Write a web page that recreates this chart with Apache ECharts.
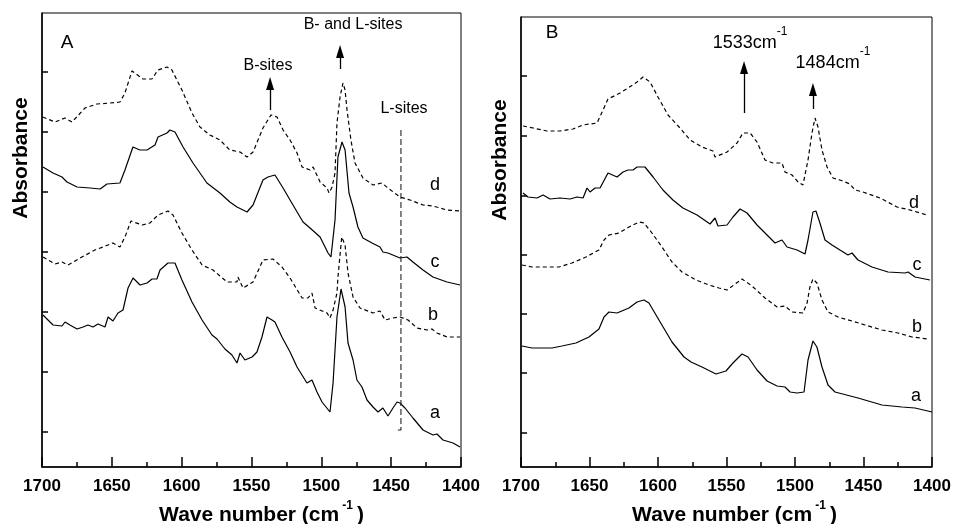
<!DOCTYPE html>
<html><head><meta charset="utf-8">
<script src="https://cdn.jsdelivr.net/npm/echarts@6/dist/echarts.min.js"></script>
<style>html,body{margin:0;padding:0;background:#fff}#c{width:953px;height:524px}</style>
</head><body><div id="c"></div>
<script>
// ---------- data: [wave number (cm-1), absorbance (a.u., offset)] ----------
const panelA_d = [[1699.5,0.315],[1690.7,0.310],[1683.5,0.314],[1678.5,0.310],[1669.2,0.324],[1660.6,0.328],[1651.3,0.329],[1644.2,0.330],[1640.6,0.339],[1635.6,0.361],[1627.7,0.353],[1621.3,0.353],[1617.0,0.362],[1610.5,0.365],[1607.0,0.362],[1599.8,0.342],[1592.6,0.319],[1586.9,0.305],[1579.8,0.297],[1572.6,0.292],[1565.5,0.282],[1558.2,0.280],[1553.2,0.275],[1548.9,0.280],[1541.8,0.304],[1536.1,0.317],[1531.7,0.315],[1527.4,0.302],[1522.4,0.292],[1517.4,0.279],[1513.8,0.265],[1508.1,0.262],[1505.9,0.265],[1500.9,0.250],[1495.9,0.244],[1494.5,0.239],[1492.3,0.245],[1490.2,0.259],[1488.8,0.309],[1486.6,0.335],[1484.5,0.349],[1483.0,0.342],[1481.6,0.322],[1478.8,0.292],[1475.9,0.269],[1470.2,0.254],[1463.0,0.247],[1456.6,0.249],[1452.3,0.244],[1443.7,0.235],[1436.5,0.232],[1427.2,0.227],[1420.1,0.226],[1410.0,0.222],[1400.5,0.221]];
const panelA_c = [[1699.3,0.265],[1692.1,0.259],[1685.7,0.255],[1682.1,0.250],[1674.9,0.245],[1665.6,0.244],[1658.4,0.243],[1653.5,0.248],[1644.2,0.249],[1640.6,0.262],[1634.9,0.285],[1629.9,0.282],[1624.8,0.282],[1619.1,0.287],[1616.9,0.295],[1610.5,0.299],[1608.4,0.302],[1604.8,0.300],[1599.0,0.285],[1591.9,0.269],[1581.9,0.249],[1572.6,0.239],[1565.5,0.230],[1560.4,0.225],[1553.2,0.220],[1548.9,0.227],[1541.8,0.252],[1538.2,0.255],[1533.2,0.257],[1527.4,0.244],[1520.3,0.227],[1513.1,0.210],[1508.1,0.204],[1500.9,0.195],[1495.2,0.179],[1493.1,0.175],[1490.2,0.212],[1488.1,0.275],[1485.2,0.290],[1483.0,0.282],[1480.2,0.239],[1477.3,0.225],[1473.8,0.205],[1470.2,0.194],[1463.7,0.189],[1458.0,0.185],[1455.9,0.180],[1452.3,0.179],[1443.7,0.174],[1438.7,0.175],[1434.4,0.170],[1427.2,0.162],[1420.1,0.155],[1410.0,0.150],[1400.7,0.147]];
const panelA_b = [[1699.3,0.175],[1690.7,0.168],[1685.7,0.170],[1681.4,0.167],[1671.4,0.175],[1662.1,0.182],[1656.3,0.185],[1649.2,0.189],[1644.2,0.185],[1640.6,0.195],[1636.3,0.211],[1628.4,0.207],[1622.7,0.209],[1616.9,0.217],[1609.8,0.221],[1606.2,0.217],[1599.8,0.199],[1592.6,0.182],[1585.4,0.167],[1577.6,0.162],[1567.5,0.150],[1560.4,0.150],[1559.7,0.155],[1556.1,0.144],[1548.9,0.150],[1541.8,0.172],[1534.6,0.173],[1528.2,0.165],[1522.4,0.154],[1513.8,0.134],[1509.5,0.134],[1506.7,0.139],[1504.5,0.124],[1495.9,0.119],[1493.8,0.114],[1491.6,0.122],[1488.8,0.139],[1488.1,0.155],[1485.4,0.195],[1483.0,0.187],[1480.9,0.159],[1477.3,0.135],[1472.3,0.124],[1463.0,0.119],[1458.0,0.121],[1454.4,0.112],[1448.7,0.114],[1443.7,0.115],[1437.9,0.112],[1431.5,0.104],[1424.3,0.102],[1420.8,0.103],[1417.2,0.099],[1410.0,0.095],[1400.5,0.095]];
const panelA_a = [[1699.3,0.117],[1692.1,0.107],[1685.7,0.106],[1683.5,0.110],[1680.0,0.107],[1674.9,0.103],[1670.6,0.105],[1667.1,0.107],[1663.5,0.105],[1659.9,0.108],[1654.9,0.105],[1652.7,0.115],[1649.2,0.111],[1645.6,0.119],[1642.0,0.122],[1638.4,0.144],[1634.8,0.154],[1629.8,0.147],[1624.8,0.149],[1621.2,0.153],[1617.7,0.153],[1615.5,0.162],[1609.8,0.169],[1604.8,0.169],[1599.8,0.152],[1592.6,0.130],[1585.4,0.112],[1578.3,0.097],[1574.7,0.093],[1569.0,0.083],[1564.0,0.077],[1560.4,0.069],[1558.2,0.079],[1554.7,0.072],[1549.6,0.075],[1546.1,0.080],[1542.5,0.095],[1538.9,0.115],[1535.3,0.112],[1533.2,0.110],[1528.2,0.095],[1522.4,0.080],[1517.4,0.065],[1510.3,0.049],[1506.7,0.052],[1503.1,0.040],[1499.5,0.030],[1493.8,0.020],[1491.6,0.049],[1488.8,0.115],[1485.9,0.143],[1483.0,0.125],[1480.9,0.089],[1477.3,0.072],[1474.5,0.052],[1470.9,0.045],[1467.3,0.032],[1463.0,0.025],[1459.4,0.020],[1455.9,0.024],[1452.3,0.016],[1448.7,0.024],[1445.8,0.030],[1443.7,0.029],[1440.1,0.024],[1434.4,0.014],[1427.2,0.002],[1420.1,-0.003],[1417.2,-0.002],[1412.9,-0.008],[1405.7,-0.011],[1400.7,-0.015]];

const panelB_d = [[1698.5,0.307],[1691.2,0.305],[1681.0,0.302],[1671.5,0.302],[1662.0,0.304],[1654.7,0.308],[1644.5,0.310],[1640.1,0.323],[1636.5,0.334],[1627.7,0.340],[1621.9,0.345],[1615.3,0.351],[1610.9,0.356],[1605.8,0.351],[1600.0,0.336],[1592.7,0.318],[1583.9,0.305],[1576.6,0.293],[1567.9,0.286],[1559.9,0.282],[1558.4,0.276],[1549.6,0.281],[1542.3,0.290],[1538.0,0.300],[1532.8,0.300],[1527.7,0.291],[1521.9,0.273],[1516.1,0.270],[1509.5,0.270],[1507.3,0.261],[1502.2,0.258],[1497.8,0.251],[1494.2,0.248],[1490.5,0.273],[1487.6,0.300],[1485.4,0.315],[1483.2,0.306],[1480.3,0.283],[1476.6,0.266],[1472.3,0.255],[1467.2,0.253],[1459.9,0.249],[1456.2,0.243],[1450.4,0.241],[1437.9,0.235],[1425.5,0.226],[1416.1,0.223],[1403.6,0.218]];
const panelB_c = [[1698.5,0.240],[1694.9,0.236],[1688.3,0.235],[1683.9,0.238],[1678.8,0.234],[1671.5,0.235],[1664.2,0.234],[1659.1,0.236],[1654.7,0.235],[1651.8,0.245],[1649.6,0.241],[1646.0,0.245],[1642.3,0.245],[1636.5,0.260],[1629.9,0.256],[1625.5,0.261],[1621.9,0.263],[1618.2,0.263],[1615.3,0.266],[1609.5,0.266],[1603.6,0.256],[1596.4,0.243],[1589.1,0.233],[1581.8,0.225],[1571.5,0.218],[1562.0,0.209],[1558.4,0.215],[1556.2,0.207],[1549.6,0.208],[1545.3,0.216],[1540.1,0.224],[1535.0,0.220],[1527.7,0.208],[1520.4,0.198],[1514.6,0.190],[1509.5,0.193],[1505.8,0.186],[1498.5,0.183],[1492.7,0.179],[1490.5,0.193],[1486.9,0.221],[1484.7,0.222],[1481.8,0.210],[1478.1,0.193],[1473.0,0.188],[1467.2,0.183],[1461.3,0.178],[1458.4,0.180],[1454.0,0.173],[1443.8,0.166],[1432.1,0.161],[1419.7,0.160],[1417.5,0.161],[1412.4,0.156],[1401.5,0.153]];
const panelB_b = [[1699.3,0.168],[1692.0,0.166],[1681.8,0.166],[1672.3,0.166],[1662.8,0.170],[1652.6,0.176],[1643.1,0.183],[1639.4,0.193],[1635.8,0.198],[1628.5,0.200],[1621.2,0.206],[1613.9,0.211],[1610.2,0.210],[1604.4,0.200],[1597.1,0.186],[1589.8,0.171],[1582.5,0.161],[1572.3,0.153],[1562.8,0.148],[1555.5,0.145],[1549.6,0.143],[1538.7,0.154],[1531.4,0.147],[1521.9,0.135],[1513.1,0.126],[1507.3,0.127],[1502.2,0.121],[1494.2,0.120],[1491.2,0.130],[1489.1,0.146],[1486.9,0.154],[1484.0,0.150],[1480.3,0.133],[1475.9,0.121],[1468.6,0.116],[1458.4,0.112],[1448.9,0.108],[1436.5,0.103],[1424.8,0.100],[1414.6,0.096],[1402.9,0.094]];
const panelB_a = [[1699.3,0.087],[1692.0,0.085],[1677.4,0.085],[1670.1,0.087],[1659.9,0.090],[1650.4,0.096],[1643.1,0.104],[1639.4,0.116],[1635.8,0.121],[1629.9,0.120],[1621.2,0.125],[1615.3,0.131],[1610.2,0.133],[1606.6,0.130],[1599.3,0.113],[1589.8,0.091],[1581.0,0.076],[1575.9,0.071],[1567.9,0.066],[1557.7,0.059],[1550.4,0.062],[1545.3,0.070],[1538.7,0.079],[1534.3,0.076],[1527.7,0.063],[1520.4,0.052],[1513.1,0.047],[1507.3,0.046],[1503.6,0.041],[1498.5,0.040],[1493.4,0.041],[1490.5,0.073],[1486.9,0.092],[1484.0,0.086],[1480.3,0.066],[1475.9,0.048],[1470.8,0.041],[1454.0,0.035],[1436.5,0.028],[1421.9,0.026],[1412.4,0.025],[1400.0,0.021]];

// axis ticks / ranges
const xMin = 1400, xMax = 1700, xStep = 50;
const yTicksA = [0, 0.06, 0.12, 0.18, 0.24, 0.30, 0.36];
const yTicksB = [0, 0.06, 0.119, 0.178, 0.237, 0.297, 0.357];
const yRangeA = [-0.035, 0.419];
const yRangeB = [-0.034, 0.416];

// annotations (data coordinates)
const lSitesLine = [[1445.2, 0.002], [1443.0, 0.002], [1443.0, 0.303]];
const arrowsA = [[1536.7, 0.322, 0.3485], [1486.6, 0.363, 0.3805]];
const arrowsB = [[1537.2, 0.320, 0.3655], [1486.9, 0.324, 0.3435]];
const curveLabels = ['a', 'b', 'c', 'd'];
const curveLabelPosA = [[1418.6, 0.019], [1420.1, 0.117], [1418.6, 0.170], [1418.6, 0.247]];
const curveLabelPosB = [[1411.7, 0.037], [1410.9, 0.106], [1410.9, 0.168], [1413.1, 0.230]];
const notesA = [
  {text: 'A', pos: [1682.1, 0.389], size: 19},
  {text: 'B-sites', pos: [1538.2, 0.366], size: 16},
  {text: 'B- and L-sites', pos: [1477.3, 0.407], size: 16},
  {text: 'L-sites', pos: [1440.8, 0.323], size: 16}
];
const notesB = [
  {text: 'B', pos: [1677.4, 0.400], size: 19},
  {text: '{m|1533cm}{s|-1}', pos: [1532.8, 0.394], size: 18},
  {text: '{m|1484cm}{s|-1}', pos: [1472.3, 0.374], size: 18}
];

const FONT = '"Liberation Sans", Arial, Helvetica, sans-serif';
const BLACK = '#000';

const grids = [
  {left: 42, top: 13, width: 419, height: 454, show: true, borderColor: BLACK, borderWidth: 1, outerBoundsMode: 'none', containLabel: false},
  {left: 521, top: 17, width: 411, height: 450, show: true, borderColor: BLACK, borderWidth: 1, outerBoundsMode: 'none', containLabel: false}
];

function makeX(gi, nameShift) {
  return {
    gridIndex: gi, type: 'value', inverse: true, min: xMin, max: xMax, interval: xStep,
    axisLine: {show: true, onZero: false, lineStyle: {color: BLACK, width: 1.5}},
    axisTick: {show: true, inside: true, length: 10, lineStyle: {color: BLACK, width: 1.5}},
    minorTick: {show: true, splitNumber: 2, length: 5, lineStyle: {color: BLACK, width: 1.5}},
    splitLine: {show: false}, minorSplitLine: {show: false},
    axisLabel: {color: BLACK, fontSize: 17, fontWeight: 'bold', fontFamily: FONT, margin: 11,
      formatter: v => String(v)},
    name: '{n|Wave number (cm}{s|-1}{n|)}', nameLocation: 'middle', nameGap: 30,
    nameTextStyle: {padding: [0, 0, 0, nameShift], rich: {
      n: {fontSize: 21, fontWeight: 'bold', fontFamily: FONT, color: BLACK, verticalAlign: 'bottom', lineHeight: 26},
      s: {fontSize: 12, fontWeight: 'bold', fontFamily: FONT, color: BLACK, verticalAlign: 'top', lineHeight: 26, padding: [0, 4, 0, 3]}
    }}
  };
}
function makeY(gi, range, ticks) {
  return {
    gridIndex: gi, type: 'value', min: range[0], max: range[1],
    axisLine: {show: true, onZero: false, lineStyle: {color: BLACK, width: 1.5}},
    axisTick: {show: true, inside: true, length: 6, customValues: ticks, lineStyle: {color: BLACK, width: 1.5}},
    axisLabel: {show: false}, splitLine: {show: false},
    name: 'Absorbance', nameLocation: 'middle', nameGap: 10, nameRotate: 90,
    nameTextStyle: {fontSize: 21, fontWeight: 'bold', fontFamily: FONT, color: BLACK, padding: [0, 0, 0, 164]}
  };
}
function curve(gi, data, dashed, extra) {
  return Object.assign({
    type: 'line', xAxisIndex: gi, yAxisIndex: gi, data: data, showSymbol: false, symbol: 'none',
    silent: true, z: 3,
    lineStyle: {color: BLACK, width: 1.2, type: dashed ? [4, 3] : 'solid'}
  }, extra || {});
}
function arrowMark(arr) {
  return {
    silent: true, animation: false, label: {show: false},
    lineStyle: {color: BLACK, width: 1.3, type: 'solid'},
    data: arr.map(a => [
      {coord: [a[0], a[1]], symbol: 'none'},
      {coord: [a[0], a[2]], symbol: 'triangle', symbolSize: [8, 13]}
    ])
  };
}

const option = {
  animation: false,
  backgroundColor: '#fff',
  grid: grids,
  xAxis: [makeX(0, 20), makeX(1, 16)],
  yAxis: [makeY(0, yRangeA, yTicksA), makeY(1, yRangeB, yTicksB)],
  series: [
    curve(0, panelA_a, false),
    curve(0, panelA_b, true),
    curve(0, panelA_c, false),
    curve(0, panelA_d, true, {markLine: arrowMark(arrowsA)}),
    curve(0, lSitesLine, true, {lineStyle: {color: '#222', width: 1.1, type: [6, 3]}}),
    curve(1, panelB_a, false),
    curve(1, panelB_b, true),
    curve(1, panelB_c, false),
    curve(1, panelB_d, true, {markLine: arrowMark(arrowsB)})
  ]
};

const chart = echarts.init(document.getElementById('c'), null, {renderer: 'canvas'});
chart.setOption(option);

// text annotations placed through the chart's own coordinate conversion
const graphics = [];
function addText(seriesIndex, pos, text, size) {
  const p = chart.convertToPixel({seriesIndex: seriesIndex}, pos);
  graphics.push({
    type: 'text', x: p[0], y: p[1], silent: true, z: 10,
    style: {
      text: text, fill: BLACK, fontSize: size, fontFamily: FONT, align: 'center', verticalAlign: 'middle',
      rich: {
        m: {fontSize: size, fontFamily: FONT, fill: BLACK, verticalAlign: 'bottom', lineHeight: 26},
        s: {fontSize: 12, fontFamily: FONT, fill: BLACK, verticalAlign: 'top', lineHeight: 26}
      }
    }
  });
}
notesA.forEach(n => addText(0, n.pos, n.text, n.size));
notesB.forEach(n => addText(5, n.pos, n.text, n.size));
curveLabels.forEach((t, i) => addText(0, curveLabelPosA[i], t, 18));
curveLabels.forEach((t, i) => addText(5, curveLabelPosB[i], t, 18));
chart.setOption({graphic: graphics});
</script>
</body></html>
